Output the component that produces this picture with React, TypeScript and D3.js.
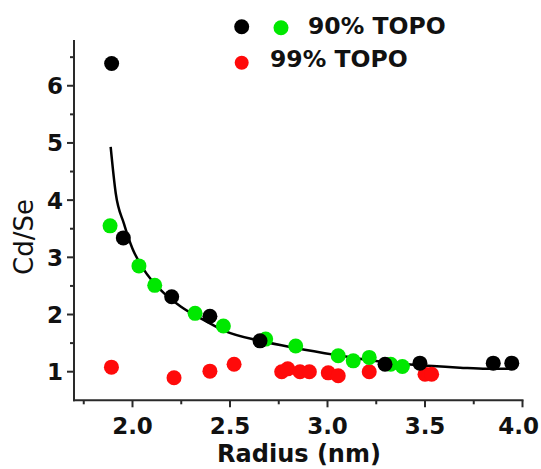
import React, { useEffect, useRef } from "react";
import * as d3 from "d3";

// 90% TOPO, black points
const blackR = [1.893, 1.953, 2.201, 2.397, 2.654, 3.295, 3.474, 3.85, 3.945];
const blackCdSe = [6.39, 3.34, 2.31, 1.97, 1.54, 1.13, 1.15, 1.15, 1.15];
// 90% TOPO, green points
const greenR = [1.885, 2.033, 2.114, 2.321, 2.466, 2.683, 2.837, 3.055, 3.132, 3.214, 3.324, 3.384];
const greenCdSe = [3.55, 2.85, 2.51, 2.02, 1.8, 1.57, 1.45, 1.28, 1.19, 1.25, 1.13, 1.09];
// 99% TOPO, red points
const redR = [1.892, 2.213, 2.397, 2.521, 2.765, 2.796, 2.859, 2.907, 3.004, 3.055, 3.214, 3.5, 3.534];
const redCdSe = [1.08, 0.895, 1.01, 1.13, 1.0, 1.05, 1.0, 1.0, 0.98, 0.93, 1.0, 0.955, 0.955];
// fit curve
const fitR = [1.888, 1.914, 1.956, 1.999, 2.059, 2.144, 2.247, 2.384, 2.469, 2.654, 2.842, 3.047, 3.218, 3.44, 3.68, 3.816, 3.955];
const fitCdSe = [4.93, 4.12, 3.59, 3.16, 2.78, 2.43, 2.14, 1.87, 1.72, 1.54, 1.41, 1.29, 1.2, 1.12, 1.07, 1.05, 1.05];

const xTicks = [2.0, 2.5, 3.0, 3.5, 4.0];
const xMinor = [1.75, 2.25, 2.75, 3.25, 3.75];
const yTicks = [1, 2, 3, 4, 5, 6];
const yMinor = [1.5, 2.5, 3.5, 4.5, 5.5, 6.5];

const FONT = "'DejaVu Sans', sans-serif";

export default function App() {
  const ref = useRef<SVGSVGElement>(null);

  useEffect(() => {
    const svg = d3.select(ref.current);
    svg.selectAll("*").remove();

    const x = d3.scaleLinear().domain([1.7, 4.0]).range([74, 522.5]);
    const y = d3.scaleLinear().domain([0.5, 6.8]).range([400.3, 40]);

    const axisColor = "#2a2a2a";

    // axes lines
    svg.append("line")
      .attr("x1", x(1.7)).attr("x2", x(1.7))
      .attr("y1", y(6.8)).attr("y2", y(0.5) + 1)
      .attr("stroke", axisColor).attr("stroke-width", 2);
    svg.append("line")
      .attr("x1", x(1.7) - 1).attr("x2", x(4.0) + 1)
      .attr("y1", y(0.5)).attr("y2", y(0.5))
      .attr("stroke", axisColor).attr("stroke-width", 2);

    // y ticks
    svg.selectAll(".ymaj").data(yTicks).enter().append("line")
      .attr("x1", x(1.7) - 7).attr("x2", x(1.7))
      .attr("y1", d => y(d)).attr("y2", d => y(d))
      .attr("stroke", axisColor).attr("stroke-width", 2);
    svg.selectAll(".ymin").data(yMinor).enter().append("line")
      .attr("x1", x(1.7) - 4).attr("x2", x(1.7))
      .attr("y1", d => y(d)).attr("y2", d => y(d))
      .attr("stroke", axisColor).attr("stroke-width", 2);
    svg.selectAll(".ylab").data(yTicks).enter().append("text")
      .attr("x", x(1.7) - 11).attr("y", d => y(d) + 8.5)
      .attr("text-anchor", "end")
      .style("font-family", FONT).style("font-weight", "bold").style("font-size", "23px")
      .style("fill", "#111")
      .text(d => d);

    // x ticks
    svg.selectAll(".xmaj").data(xTicks).enter().append("line")
      .attr("x1", d => x(d)).attr("x2", d => x(d))
      .attr("y1", y(0.5)).attr("y2", y(0.5) + 7)
      .attr("stroke", axisColor).attr("stroke-width", 2);
    svg.selectAll(".xmin").data(xMinor).enter().append("line")
      .attr("x1", d => x(d)).attr("x2", d => x(d))
      .attr("y1", y(0.5)).attr("y2", y(0.5) + 4)
      .attr("stroke", axisColor).attr("stroke-width", 2);
    // last label pinned to the right edge so it stays inside the picture
    svg.selectAll(".xlab").data(xTicks).enter().append("text")
      .attr("x", d => (d === 4.0 ? 539 : x(d))).attr("y", 434)
      .attr("text-anchor", d => (d === 4.0 ? "end" : "middle"))
      .style("font-family", FONT).style("font-weight", "bold").style("font-size", "23px")
      .style("fill", "#111")
      .text(d => d.toFixed(1));

    // axis titles
    svg.append("text")
      .attr("x", 299).attr("y", 462)
      .attr("text-anchor", "middle")
      .style("font-family", FONT).style("font-weight", "bold").style("font-size", "24px")
      .style("fill", "#111")
      .text("Radius (nm)");
    svg.append("text")
      .attr("transform", "translate(33,237) rotate(-90)")
      .attr("text-anchor", "middle")
      .style("font-family", FONT).style("font-size", "26px")
      .style("fill", "#111")
      .text("Cd/Se");

    // fit line
    const fit = fitR.map((r, i) => [r, fitCdSe[i]] as [number, number]);
    const line = d3.line<[number, number]>()
      .x(d => x(d[0])).y(d => y(d[1]))
      .curve(d3.curveMonotoneX);
    svg.append("path")
      .attr("d", line(fit))
      .attr("fill", "none")
      .attr("stroke", "#000")
      .attr("stroke-width", 2.5);

    const dots = (rs: number[], vs: number[], color: string) => {
      svg.append("g").selectAll("circle")
        .data(rs.map((r, i) => [r, vs[i]]))
        .enter().append("circle")
        .attr("cx", d => x(d[0])).attr("cy", d => y(d[1]))
        .attr("r", 7.5)
        .style("fill", color);
    };
    dots(redR, redCdSe, "#ff0a0a");
    dots(greenR, greenCdSe, "#00e800");
    dots(blackR, blackCdSe, "#000");

    // legend
    svg.append("circle").attr("cx", 241.7).attr("cy", 26.7).attr("r", 7.5).style("fill", "#000");
    svg.append("circle").attr("cx", 281).attr("cy", 27.7).attr("r", 7.5).style("fill", "#00e800");
    svg.append("circle").attr("cx", 241.7).attr("cy", 62.7).attr("r", 7).style("fill", "#ff0a0a");
    svg.append("text")
      .attr("x", 308).attr("y", 34)
      .style("font-family", FONT).style("font-weight", "bold").style("font-size", "23.5px")
      .style("fill", "#111")
      .text("90% TOPO");
    svg.append("text")
      .attr("x", 270).attr("y", 67)
      .style("font-family", FONT).style("font-weight", "bold").style("font-size", "23.5px")
      .style("fill", "#111")
      .text("99% TOPO");
  }, []);

  return (
    <div style={{ position: "absolute", left: 0, top: 0 }}>
      <svg ref={ref} width={541} height={469} style={{ display: "block", background: "#fff" }} />
    </div>
  );
}
